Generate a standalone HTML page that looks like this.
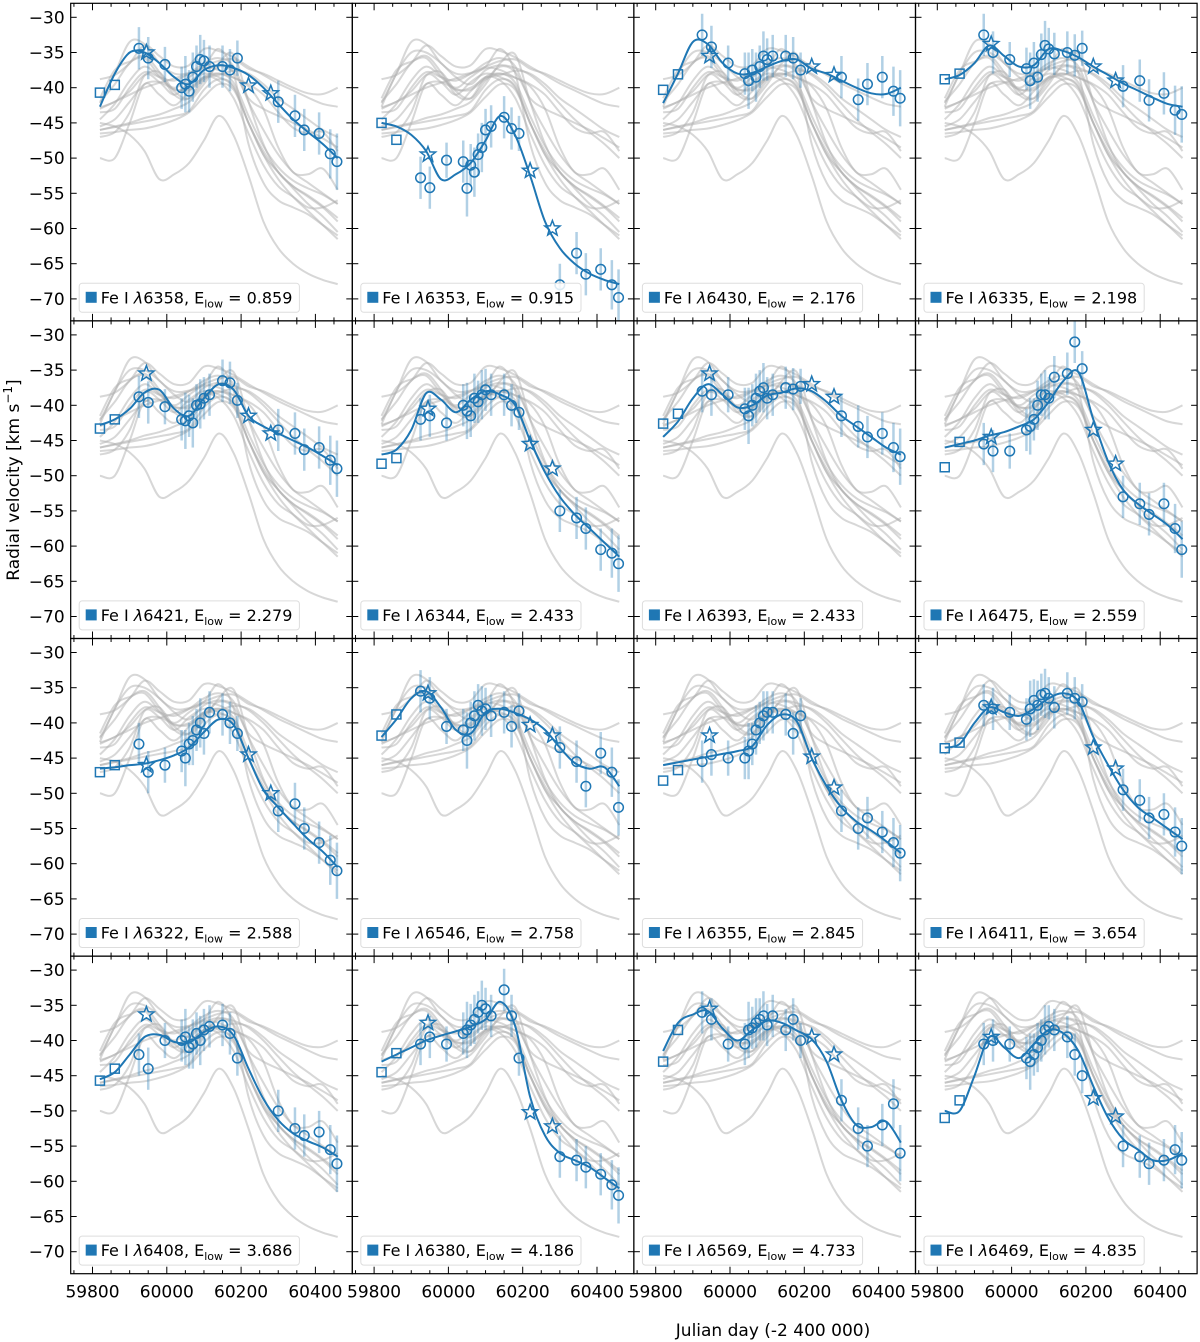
<!DOCTYPE html>
<html><head><meta charset="utf-8"><style>
body{margin:0;background:#fff}
svg{display:block;font-family:"DejaVu Sans","Liberation Sans",sans-serif}
</style></head><body>
<svg id="fig" width="1200" height="1342" viewBox="0 0 1200 1342" xmlns="http://www.w3.org/2000/svg">
<text transform="translate(19,480) rotate(-90)" text-anchor="middle" font-size="17">Radial velocity [km s<tspan dy="-7" font-size="12">−1</tspan><tspan dy="7">]</tspan></text>
<text x="773" y="1336" text-anchor="middle" font-size="17">Julian day (-2 400 000)</text>
</svg>
<script>
const gridDays=[59820,59860,59900,59940,59980,60020,60060,60100,60140,60180,60220,60260,60300,60340,60380,60420,60460];
const lineNames=["6358","6353","6430","6335","6421","6344","6393","6475","6322","6546","6355","6411","6408","6380","6569","6469"];
const elow=["0.859","0.915","2.176","2.198","2.279","2.433","2.433","2.559","2.588","2.758","2.845","3.654","3.686","4.186","4.733","4.835"];
const fit0=[-42.7,-38,-35,-35,-36.5,-38.5,-39.5,-37.5,-36.8,-37.2,-38.2,-40,-42.3,-44.5,-46.3,-48,-50];
const fit1=[-45,-45.5,-46.7,-49,-53,-52.3,-50.7,-47.5,-44,-46.8,-52.5,-59,-62.8,-65,-66.4,-67.3,-67.9];
const fit2=[-42.2,-38,-33.5,-33.8,-36.5,-38,-37.9,-37,-36.2,-36,-37.3,-38,-39,-40,-40.8,-40.9,-40];
const fit3=[-38.8,-38.2,-36.5,-34,-35.5,-37,-36.8,-34.5,-34.8,-35.7,-37,-38.2,-39.4,-40.4,-41.4,-42.3,-42.7];
const fit4=[-42.8,-42,-40.5,-38.2,-37.8,-40.5,-41.5,-39,-37,-37.8,-41.5,-43,-44,-45,-46,-47.2,-48.5];
const fit5=[-47,-46.3,-43.5,-38.3,-39.2,-41,-39.2,-38,-38.5,-40,-45,-49.5,-53,-55.5,-57.5,-59.5,-61.5];
const fit6=[-44.5,-42.3,-39,-37,-38.5,-40.3,-40,-38.6,-38.2,-37.6,-38,-39.5,-41.5,-43,-44.5,-46,-47];
const fit7=[-46,-45.5,-45,-44.3,-43.8,-43,-42,-39.5,-36.5,-35.3,-42,-48,-52,-54,-55.5,-57,-59];
const fit8=[-46.5,-46.3,-46,-45.8,-45.3,-44.6,-43.5,-41.3,-39.5,-40.3,-45,-49.5,-52,-54.3,-56.5,-58.3,-60.5];
const fit9=[-42,-39.5,-36.5,-35.5,-37.8,-41,-41.5,-38.5,-38,-38.6,-39.5,-41,-43.5,-45.7,-46.5,-46.3,-49];
const fit10=[-46,-45.6,-45.2,-44.8,-44.4,-44,-43.3,-40.3,-38.8,-39.8,-45,-49,-52,-54,-55.3,-56.8,-58.5];
const fit11=[-43.5,-43,-40,-37.8,-38.5,-39,-38,-36.5,-35.8,-37,-42,-46,-49.5,-52,-53.5,-55,-56.5];
const fit12=[-45.5,-44.5,-42,-39.5,-39.2,-40.2,-40.3,-38.8,-38,-39.3,-44,-48.3,-51.3,-53.2,-54.3,-55.2,-56.5];
const fit13=[-43,-42,-41,-40,-39.3,-38.7,-38,-37,-34.5,-38,-48,-53.5,-56,-57,-58,-59.5,-61];
const fit14=[-41.5,-37.5,-36.3,-35.8,-38.3,-40,-38.5,-37.2,-37.5,-38.6,-39.8,-43,-48.5,-52,-52.3,-51.5,-54.5];
const fit15=[-50,-50,-45,-39.5,-41,-42.5,-40.5,-38.5,-39,-41.5,-46.5,-51,-54,-55.5,-57,-57,-56];
const fits=[fit0,fit1,fit2,fit3,fit4,fit5,fit6,fit7,fit8,fit9,fit10,fit11,fit12,fit13,fit14,fit15];
const obsDays=[59925,59950,59995,60040,60050,60060,60070,60080,60090,60100,60115,60150,60170,60190,60300,60345,60370,60410,60440,60458];
const obsErr=[3,3,2.5,3,4,3,3.5,3,3.5,3,3,3,3,2.5,3,3,3,3,3.5,4];
const obs0=[-34.4,-35.8,-36.7,-40,-39.5,-40.5,-38.5,-37,-36,-36.2,-37,-37,-37.5,-35.8,-42,-44,-46,-46.5,-49.4,-50.5];
const obs1=[-52.8,-54.2,-50.3,-50.5,-54.3,-51,-52,-49.5,-48.5,-46,-45.5,-44.2,-45.8,-46.5,-68,-63.5,-66.5,-65.8,-68,-69.8];
const obs2=[-32.5,-34.2,-36.5,-38,-39,-37.5,-38.5,-37,-35.5,-36,-35.5,-35.5,-35.8,-37.5,-38.5,-41.7,-39.5,-38.5,-40.5,-41.5];
const obs3=[-32.5,-35,-36,-37.3,-39,-36.5,-38.5,-35.3,-34,-34.5,-35.2,-35,-35.4,-34.4,-39.8,-39,-41.8,-40.8,-43.2,-43.8];
const obs4=[-38.8,-39.6,-40.2,-42,-42.2,-41.5,-42.5,-40,-39.8,-39,-38.5,-36.5,-36.8,-39.3,-43.5,-44,-46.3,-46,-47.8,-49];
const obs5=[-42,-41.5,-42.5,-40,-40.8,-41.5,-39,-39.5,-38.5,-37.8,-38.5,-38.5,-40,-41,-55,-56,-57.5,-60.5,-61,-62.5];
const obs6=[-38,-38.5,-38.5,-40.5,-41.5,-40,-39,-38,-37.5,-39,-38.5,-37.5,-37.7,-37.3,-41.5,-43,-44.5,-44,-46,-47.3];
const obs7=[-45.5,-46.5,-46.5,-43.5,-43,-42,-40,-38.5,-38.5,-39,-36,-35.5,-31,-34.8,-53,-54,-55.5,-54,-57.5,-60.5];
const obs8=[-43,-47,-46,-44,-45,-43,-42.5,-41,-40,-41.5,-38.5,-38.8,-40,-41.5,-52.5,-51.5,-55,-57,-59.5,-61];
const obs9=[-35.5,-36.5,-40.5,-41,-42.5,-40,-39,-37.5,-38.3,-38,-39,-38.5,-40.5,-38.3,-43.5,-45.5,-49,-44.3,-47,-52];
const obs10=[-45.5,-44.5,-45,-45,-44,-43,-41,-40,-39,-38.5,-38.5,-38.8,-41.5,-39,-52.5,-55,-53.5,-55.5,-57,-58.5];
const obs11=[-37.5,-38,-38.5,-39.5,-38,-36.8,-37.5,-36,-35.8,-36.5,-37.8,-35.8,-36.5,-37,-49.5,-51,-53.5,-53,-55.5,-57.5];
const obs12=[-42,-44,-40,-40,-39.5,-41,-40.5,-39,-40,-38.5,-38,-37.8,-39,-42.5,-50,-52.5,-53.5,-53,-55.5,-57.5];
const obs13=[-40.5,-39.5,-40.5,-39,-38.5,-37.8,-37,-36,-35,-35.5,-36.5,-32.8,-36.5,-42.5,-56.5,-57,-58,-59,-60.5,-62];
const obs14=[-36,-37,-40.5,-40.5,-38.5,-38.2,-37.5,-37,-36.5,-37.8,-36.5,-38.5,-37,-40,-48.5,-52.5,-55,-52,-49,-56];
const obs15=[-40.5,-40,-40.5,-42.5,-43,-42,-41,-40,-38.5,-38,-38.5,-39.5,-42,-45,-55,-56.5,-57.5,-57,-55.5,-57];
const obsVals=[obs0,obs1,obs2,obs3,obs4,obs5,obs6,obs7,obs8,obs9,obs10,obs11,obs12,obs13,obs14,obs15];
const starDays=[59945,60220,60280];
const starVals=[[-35,-39.7,-40.8],[-49.5,-51.8,-60],[-35.5,-37,-38.2],[-33.8,-37,-39],[-35.5,-41.5,-44],[-40.5,-45.5,-49],[-35.5,-37,-38.8],[-44.5,-43.5,-48.3],[-46,-44.5,-50],[-35.8,-40.3,-41.8],[-41.8,-44.8,-49.2],[-37.8,-43.5,-46.5],[-36.3,null,null],[-37.5,-50.2,-52.2],[-35.5,-39.5,-42],[-39.5,-48.2,-50.8]];
const sqDays=[59820,59860];
const sqVals=[[-40.7,-39.6],[-45,-47.4],[-40.3,-38.1],[-38.8,-38],[-43.3,-42],[-48.3,-47.5],[-42.6,-41.2],[-48.8,-45.2],[-47,-46],[-41.8,-38.8],[-48.2,-46.7],[-43.6,-42.8],[-45.7,-44],[-44.5,-41.8],[-43,-38.5],[-51,-48.5]];
const yTicks=[-30,-35,-40,-45,-50,-55,-60,-65,-70];
const xTicks=[59800,60000,60200,60400];
const xMinor=[59750,59850,59900,59950,60050,60100,60150,60250,60300,60350,60450];

const NS="http://www.w3.org/2000/svg";
const svg=document.getElementById('fig');
const BLUE="#1f77b4";
function mk(tag,attrs,parent){const e=document.createElementNS(NS,tag);for(const k in attrs)e.setAttribute(k,attrs[k]);(parent||svg).appendChild(e);return e;}
function smooth(pts){let d="M"+pts[0][0]+","+pts[0][1];for(let i=0;i<pts.length-1;i++){const p0=pts[Math.max(0,i-1)],p1=pts[i],p2=pts[i+1],p3=pts[Math.min(pts.length-1,i+2)];const c1=[p1[0]+(p2[0]-p0[0])/6,p1[1]+(p2[1]-p0[1])/6],c2=[p2[0]-(p3[0]-p1[0])/6,p2[1]-(p3[1]-p1[1])/6];d+=" C"+c1[0].toFixed(1)+","+c1[1].toFixed(1)+" "+c2[0].toFixed(1)+","+c2[1].toFixed(1)+" "+p2[0].toFixed(1)+","+p2[1].toFixed(1);}return d;}
function starPath(cx,cy,R){const r=R*0.42;let d="";for(let i=0;i<10;i++){const a=-Math.PI/2+i*Math.PI/5,rr=i%2?r:R;d+=(i?"L":"M")+(cx+rr*Math.cos(a)).toFixed(1)+","+(cy+rr*Math.sin(a)).toFixed(1);}return d+"Z";}

const W=281.6,H=317.6;
for(let p=0;p<16;p++){
  const c=p%4,r=Math.floor(p/4);
  const x0=70.7+c*W,y0=3.3+r*H;
  const X=d=>x0+21.8+(d-59800)*0.3715;
  const Y=v=>y0+14+(-30-v)*7.04;
  const g=mk('g',{});
  
  
  const clipId='clip'+p;
  const cp=mk('clipPath',{id:clipId},g);mk('rect',{x:x0,y:y0,width:W,height:H},cp);
  const inner=mk('g',{'clip-path':'url(#'+clipId+')'},g);
  // grey curves (other lines' fits)
  for(let q=0;q<16;q++){if(q===p)continue;
    const gl=mk('path',{d:smooth(gridDays.map((d,i)=>[X(d),Y(fits[q][i])])),fill:'none',stroke:'#b0b0b0','stroke-width':2,'stroke-opacity':0.5},inner);
    
    
  }
  // error bars
  obsDays.forEach((d,i)=>{const v=obsVals[p][i],e=obsErr[i];
    const eb=mk('line',{x1:X(d),x2:X(d),y1:Y(v-e),y2:Y(v+e),stroke:BLUE,'stroke-opacity':0.35,'stroke-width':2.5},inner);
    
    
  });
  // fit curve
  const fc=mk('path',{d:smooth(gridDays.map((d,i)=>[X(d),Y(fits[p][i])])),fill:'none',stroke:BLUE,'stroke-width':2},inner);
  
  
  obsDays.forEach((d,i)=>{
    const pt=mk('circle',{cx:X(d),cy:Y(obsVals[p][i]),r:4.8,fill:'none',stroke:BLUE,'stroke-width':1.5},inner);
    
    
  });
  starDays.forEach((d,i)=>{const v=starVals[p][i];if(v===null)return;
    const st=mk('path',{d:starPath(X(d),Y(v),8),fill:'none',stroke:BLUE,'stroke-width':1.5},inner);
    
    
  });
  sqDays.forEach((d,i)=>{const v=sqVals[p][i];
    const sq=mk('rect',{x:X(d)-4.5,y:Y(v)-4.5,width:9,height:9,fill:'none',stroke:BLUE,'stroke-width':1.5},inner);
    
    
  });
  // ticks
  yTicks.forEach(t=>{const y=Y(t);
    mk('line',{x1:x0,x2:x0+6,y1:y,y2:y,stroke:'#000','stroke-width':1},g);
    mk('line',{x1:x0+W-6,x2:x0+W,y1:y,y2:y,stroke:'#000','stroke-width':1},g);
    if(c===0){const tl=mk('text',{x:x0-6,y:y+6,'text-anchor':'end','font-size':17},g);tl.textContent=(t<0?'\u2212':'')+Math.abs(t);
      
      }
  });
  xTicks.forEach(t=>{const x=X(t);
    mk('line',{x1:x,x2:x,y1:y0+H-7,y2:y0+H,stroke:'#000','stroke-width':1},g);
    mk('line',{x1:x,x2:x,y1:y0,y2:y0+7,stroke:'#000','stroke-width':1},g);
    if(r===3){const tl=mk('text',{x:x,y:y0+H+24,'text-anchor':'middle','font-size':17},g);tl.textContent=t;
      
      }
  });
  xMinor.forEach(t=>{const x=X(t);
    mk('line',{x1:x,x2:x,y1:y0+H-3.5,y2:y0+H,stroke:'#000','stroke-width':1},g);
    mk('line',{x1:x,x2:x,y1:y0,y2:y0+3.5,stroke:'#000','stroke-width':1},g);
  });
  // frame
  const fr=mk('rect',{x:x0,y:y0,width:W,height:H,fill:'none',stroke:'#000','stroke-width':1.2},g);
  
  
  // legend
  const lg=mk('g',{},g);
  
  
  const box=mk('rect',{x:x0+8.5,y:y0+280,width:214,height:29,rx:3,fill:'#fff','fill-opacity':0.85,stroke:'#ddd','stroke-width':1},lg);
  mk('rect',{x:x0+15,y:y0+288.5,width:11,height:11,fill:BLUE},lg);
  const tx=mk('text',{x:x0+30,y:y0+300,'font-size':16},lg);
  tx.innerHTML='Fe I <tspan font-style="italic">λ</tspan>'+lineNames[p]+', E<tspan dy="4" font-size="11">low</tspan><tspan dy="-4"> = '+elow[p]+'</tspan>';
  
  
  try{const bb=tx.getBBox();box.setAttribute('width',(bb.x+bb.width+7-(x0+8.5)).toFixed(1));}catch(e){}
}
</script>
</body></html>
